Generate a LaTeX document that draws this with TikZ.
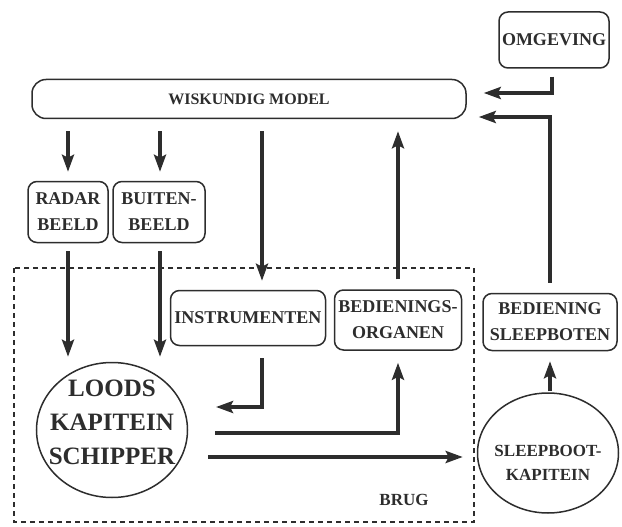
\documentclass[tikz,border=0pt]{standalone}
\usepackage{fontspec}
\setmainfont{Liberation Serif}
\usetikzlibrary{arrows.meta, positioning, shapes.geometric, calc}

\definecolor{ink}{RGB}{45,45,45}

\tikzset{
  box/.style={draw, line width=1.5pt, rounded corners=9pt, align=center,
              inner sep=1pt, font=\fontsize{18}{26}\selectfont\bfseries},
  person/.style={draw, ellipse, line width=1.5pt, inner sep=0pt},
  flow/.style={line width=3.8pt, -{Stealth[length=17pt, width=12pt, inset=3pt]}},
  bridge/.style={line width=1.5pt, dash pattern=on 5pt off 4pt},
}

\begin{document}
\begin{tikzpicture}[x=1pt, y=-1pt, color=ink]
  \useasboundingbox (0,0) rectangle (622,527);

  % Model and environment
  \node[box, minimum width=110pt, minimum height=56pt] (omgeving) at (554,40) {OMGEVING};
  \node[box, minimum width=434pt, minimum height=39pt, rounded corners=14pt,
        font=\fontsize{16}{20}\selectfont\bfseries] (model) at (249,99) {WISKUNDIG MODEL};

  % Images
  \node[box, minimum width=80pt, minimum height=61pt] (radar) at (68,212) {RADAR\\BEELD};
  \node[box, minimum width=92pt, minimum height=61pt] (buiten) at (159,212) {BUITEN-\\BEELD};

  % Bridge
  \draw[bridge] (14,268) rectangle (474,522);
  \node[font=\fontsize{17}{20}\selectfont\bfseries] (brug) at (404,500) {BRUG};
  \node[box, minimum width=155pt, minimum height=55pt] (instr) at (248,318) {INSTRUMENTEN};
  \node[box, minimum width=127pt, minimum height=60pt] (bedorg) at (398,320) {BEDIENINGS-\\ORGANEN};

  % Persons
  \node[person, minimum width=151pt, minimum height=135pt] (loods) at (112,430) {};
  \node[font=\fontsize{25}{34}\selectfont\bfseries, align=center] (loodstxt)
    at ($(loods)+(0,-8)$) {LOODS\\KAPITEIN\\SCHIPPER};
  \node[person, minimum width=141pt, minimum height=120pt] (sleep) at (548,453) {};
  \node[font=\fontsize{17}{24}\selectfont\bfseries, align=center] (sleeptxt)
    at ($(sleep)+(0,10)$) {SLEEPBOOT-\\KAPITEIN};
  \node[box, minimum width=134pt, minimum height=57pt] (bedsl) at (550,322) {BEDIENING\\SLEEPBOTEN};

  % Arrows
  \draw[flow] ($(omgeving.south)+(-2,8)$) |- ($(model.east)+(17,-6)$);
  \draw[flow] ($(bedsl.north)+(0,-10)$) |- ($(model.east)+(12,18)$);
  \draw[flow] ($(model.south -| radar.north)+(0,12)$) -- ($(radar.north)+(0,-9)$);
  \draw[flow] ($(model.south -| buiten.north)+(1,12)$) -- ($(buiten.north)+(1,-9)$);
  \draw[flow] ($(model.south -| instr.north)+(14,12)$) -- ($(instr.north)+(14,-9)$);
  \draw[flow] ($(bedorg.north)+(0,-10)$) -- ($(model.south -| bedorg.north)+(0,12)$);
  \draw[flow] ($(radar.south)+(0,8)$) -- ($(loods.north -| radar.south)+(0,-5)$);
  \draw[flow] ($(buiten.south)+(1,8)$) -- ($(loods.north -| buiten.south)+(1,-5)$);
  \draw[flow] ($(instr.south)+(14,12)$) |- ($(loods)+(104,-23)$);
  \draw[flow] ($(loods)+(103,3)$) -| ($(bedorg.south)+(0,12)$);
  \draw[flow] ($(loods)+(96,27)$) -- ($(sleep.west)+(-14,4)$);
  \draw[flow] ($(sleep.north)+(2,-1)$) -- ($(bedsl.south)+(0,10)$);
\end{tikzpicture}
\end{document}
